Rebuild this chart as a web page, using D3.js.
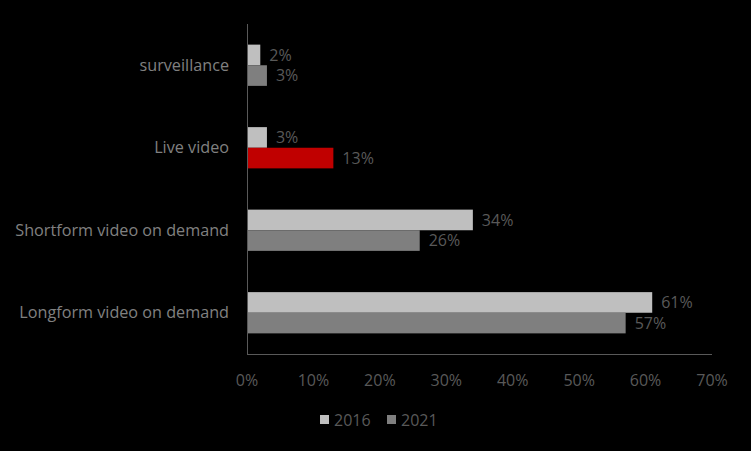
<!DOCTYPE html>
<html><head><meta charset="utf-8">
<script src="https://cdn.jsdelivr.net/npm/d3@7"></script>
<style>html,body{margin:0;padding:0;background:#000;}svg{display:block;}</style>
</head><body>
<svg id="c" width="751" height="451"></svg>
<script>
const categories = ["surveillance", "Live video", "Shortform video on demand", "Longform video on demand"];
const series = ["2016", "2021"];
const values2016 = [2, 3, 34, 61];
const values2021 = [3, 13, 26, 57];
const xTicks = [0, 10, 20, 30, 40, 50, 60, 70];
const seriesColors = {"2016": "#bfbfbf", "2021": "#7f7f7f"};
const highlight = {category: "Live video", series: "2021", color: "#c00000"};

const svg = d3.select("#c");
const font = "'Open Sans', 'Noto Sans', sans-serif";
const m = {left: 247, right: 712, top: 24, bottom: 354};
const x = d3.scaleLinear().domain([0, 70]).range([m.left, m.right]);
const y = d3.scaleBand().domain(categories).range([m.top, m.bottom]).paddingInner(0.5).paddingOuter(0.25);
const ySub = d3.scaleBand().domain(series).range([0, y.bandwidth()]);

const data = [];
categories.forEach((c, i) => {
  data.push({cat: c, s: "2016", v: values2016[i]});
  data.push({cat: c, s: "2021", v: values2021[i]});
});

svg.selectAll("rect.bar").data(data).enter().append("rect")
  .attr("x", x(0))
  .attr("y", d => y(d.cat) + ySub(d.s))
  .attr("width", d => x(d.v) - x(0))
  .attr("height", ySub.bandwidth())
  .attr("fill", d => (d.cat === highlight.category && d.s === highlight.series) ? highlight.color : seriesColors[d.s]);

svg.selectAll("text.lbl").data(data).enter().append("text")
  .attr("x", d => x(d.v) + 9)
  .attr("y", d => y(d.cat) + ySub(d.s) + ySub.bandwidth() / 2)
  .attr("dy", "0.35em")
  .attr("font-family", font).attr("font-size", 16).attr("fill", "#595959")
  .text(d => d.v + "%");

// axes lines
svg.append("line").attr("x1", m.left).attr("x2", m.left).attr("y1", m.top).attr("y2", m.bottom)
  .attr("stroke", "#595959").attr("stroke-width", 1).attr("shape-rendering", "crispEdges");
svg.append("line").attr("x1", m.left).attr("x2", m.right).attr("y1", m.bottom).attr("y2", m.bottom)
  .attr("stroke", "#595959").attr("stroke-width", 1).attr("shape-rendering", "crispEdges");

svg.selectAll("text.tick").data(xTicks).enter().append("text")
  .attr("x", d => x(d)).attr("y", 380).attr("dy", "0.35em")
  .attr("text-anchor", "middle")
  .attr("font-family", font).attr("font-size", 16).attr("fill", "#595959")
  .text(d => d + "%");

svg.selectAll("text.cat").data(categories).enter().append("text")
  .attr("x", 229).attr("y", d => y(d) + y.bandwidth() / 2).attr("dy", "0.35em")
  .attr("text-anchor", "end")
  .attr("font-family", font).attr("font-size", 16.2).attr("fill", "#808080")
  .text(d => d);

// legend
const legX = [320, 387];
series.forEach((s, i) => {
  svg.append("rect").attr("x", legX[i]).attr("y", 415).attr("width", 9).attr("height", 9).attr("fill", seriesColors[s]);
  svg.append("text").attr("x", legX[i] + 14).attr("y", 420).attr("dy", "0.35em")
    .attr("font-family", font).attr("font-size", 16).attr("fill", "#595959").text(s);
});
</script>
</body></html>
